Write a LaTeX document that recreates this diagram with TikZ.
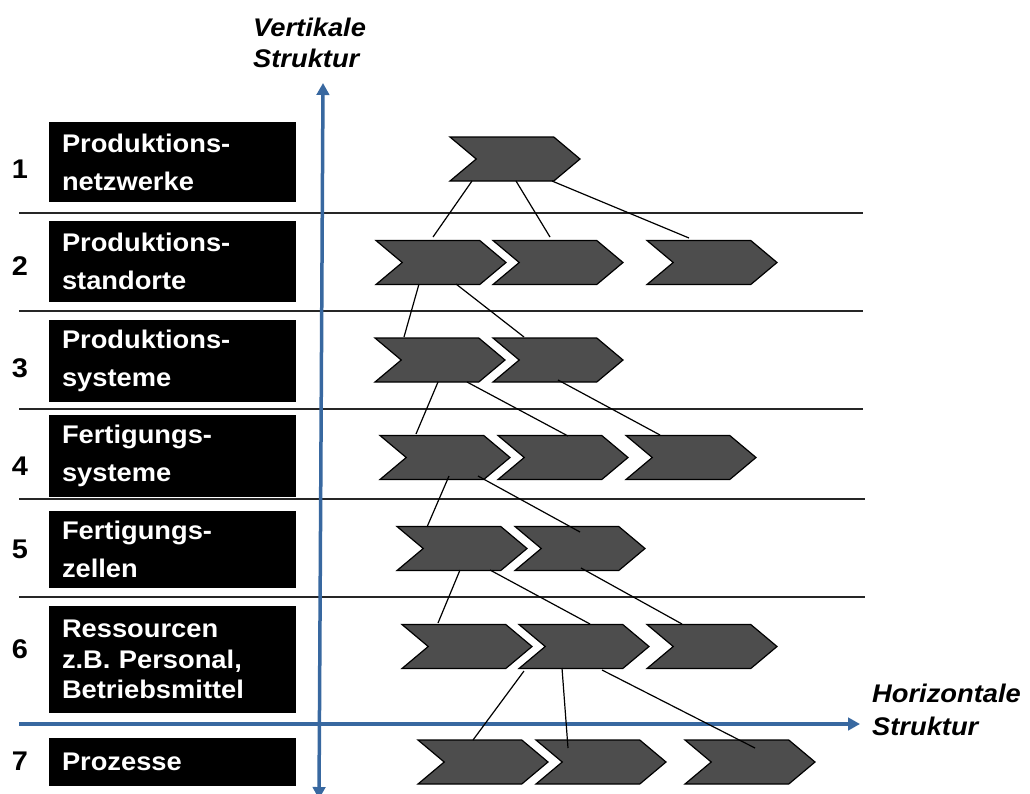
\documentclass[tikz,border=0pt]{standalone}
\usepackage{fontspec}
\setmainfont{Liberation Sans}[FakeStretch=1.07]
\usetikzlibrary{shapes.symbols,arrows.meta,calc}
\definecolor{axisblue}{RGB}{56,104,160}
\definecolor{chevgray}{RGB}{77,77,77}

\begin{document}
\begin{tikzpicture}[x=1pt,y=-1pt,
  chevron/.style={shape=signal, signal from=west, signal to=east,
    signal pointer angle=80, fill=chevgray, draw=black, line width=1.2pt,
    minimum width=130pt, minimum height=44pt, inner sep=0pt, outer sep=0pt},
  levelbox/.style={fill=black, text=white, align=left,
    font=\bfseries\fontsize{25.5}{38}\selectfont,
    text width=221pt, inner xsep=13pt, inner ysep=0pt},
  levelnum/.style={font=\bfseries\fontsize{27}{30}\selectfont, inner sep=0pt},
  axislabel/.style={font=\bfseries\itshape\fontsize{25.5}{31}\selectfont,
    align=left, inner sep=0pt, anchor=north west},
  separator/.style={line width=1.2pt, black!85},
  axis/.style={line width=3.5pt, axisblue,
    arrows={Triangle[length=12pt,width=12.5pt]-Triangle[length=12pt,width=12.5pt]}},
  axisone/.style={line width=3.5pt, axisblue,
    arrows={-Triangle[length=12pt,width=12.5pt]}},
  link/.style={line width=1.2pt, black}
]
\useasboundingbox (0,0) rectangle (1030,793);
\clip (0,0) rectangle (1030,793);

% level separators
\foreach \yy/\xe in {213/863, 311/863, 409/863, 499/865, 597/865}
  \draw[separator] (19,\yy) -- (\xe,\yy);

% axes
\coordinate (vlow) at (319,799);
\coordinate (vtop) at (323,83);
\coordinate (hleft) at (19,724);
\coordinate (hright) at (860,724);
\draw[axis] (vlow) -- (vtop);
\draw[axisone] (hleft) -- (hright);

\node[axislabel] (vlabel) at (253,17.5) {Vertikale\\Struktur};
\node[axislabel, font=\bfseries\itshape\fontsize{25.5}{33}\selectfont]
  (hlabel) at (872,683.5) {Horizontale\\Struktur};

% level labels
\node[levelbox, minimum height=80pt]  (b1) at (172.5,162)   {Produktions-\\netzwerke};
\node[levelbox, minimum height=81pt]  (b2) at (172.5,261.5) {Produktions-\\standorte};
\node[levelbox, minimum height=82pt]  (b3) at (172.5,361)   {Produktions-\\systeme};
\node[levelbox, minimum height=82pt]  (b4) at (172.5,456)   {Fertigungs-\\systeme};
\node[levelbox, minimum height=77pt]  (b5) at (172.5,549.5) {Fertigungs-\\zellen};
\node[levelbox, minimum height=107pt, font=\bfseries\fontsize{25.5}{30.5}\selectfont]
  (b6) at (172.5,659.5) {Ressourcen\\z.B. Personal,\\Betriebsmittel};
\node[levelbox, minimum height=48pt]  (b7) at (172.5,762)   {Prozesse};

\node[levelnum] (n1) at (20,169) {1};
\node[levelnum] (n2) at (20,266) {2};
\node[levelnum] (n3) at (20,368) {3};
\node[levelnum] (n4) at (20,466) {4};
\node[levelnum] (n5) at (20,549) {5};
\node[levelnum] (n6) at (20,649) {6};
\node[levelnum] (n7) at (20,761) {7};

% process chevrons
\node[chevron] (r1a) at (515,159) {};
\node[chevron] (r2a) at (441,262.5) {};
\node[chevron] (r2b) at (558,262.5) {};
\node[chevron] (r2c) at (712,262.5) {};
\node[chevron] (r3a) at (440,360) {};
\node[chevron] (r3b) at (558,360) {};
\node[chevron] (r4a) at (445,457.5) {};
\node[chevron] (r4b) at (563,457.5) {};
\node[chevron] (r4c) at (691,457.5) {};
\node[chevron] (r5a) at (462,548.5) {};
\node[chevron] (r5b) at (580,548.5) {};
\node[chevron] (r6a) at (467,646.5) {};
\node[chevron] (r6b) at (584,646.5) {};
\node[chevron] (r6c) at (712,646.5) {};
\node[chevron] (r7a) at (483,762) {};
\node[chevron] (r7b) at (601,762) {};
\node[chevron] (r7c) at (750,762) {};

% decomposition links
\draw[link] ($(r1a)+(-43,22)$) -- ($(r2a)+(-8,-25.5)$);
\draw[link] ($(r1a)+(1,22)$)   -- ($(r2b)+(-8,-25.5)$);
\draw[link] ($(r1a)+(37,22)$)  -- ($(r2c)+(-23,-24.5)$);

\draw[link] ($(r2a)+(-22,21.5)$) -- ($(r3a)+(-36,-23)$);
\draw[link] ($(r2a)+(15,21.5)$)  -- ($(r3b)+(-34,-23)$);

\draw[link] ($(r3a)+(-2,22)$) -- ($(r4a)+(-29,-23.5)$);
\draw[link] ($(r3a)+(27,22)$) -- ($(r4b)+(5,-21.5)$);
\draw[link] ($(r3b)+(0,20)$)  -- ($(r4c)+(-31,-22.5)$);

\draw[link] ($(r4a)+(4,18.5)$)  -- ($(r5a)+(-35,-21.5)$);
\draw[link] ($(r4a)+(33,18.5)$) -- ($(r5b)+(0,-16.5)$);

\draw[link] ($(r5a)+(-2,21.5)$) -- ($(r6a)+(-29,-23.5)$);
\draw[link] ($(r5a)+(28,21.5)$) -- ($(r6b)+(6,-22.5)$);
\draw[link] ($(r5b)+(1,19.5)$)  -- ($(r6c)+(-30,-22.5)$);

\draw[link] ($(r6b)+(-60,24.5)$) -- ($(r7a)+(-10,-22)$);
\draw[link] ($(r6b)+(-22,21.5)$) -- ($(r7b)+(-33,-14)$);
\draw[link] ($(r6b)+(18,23.5)$)  -- ($(r7c)+(5,-14)$);
\end{tikzpicture}
\end{document}
